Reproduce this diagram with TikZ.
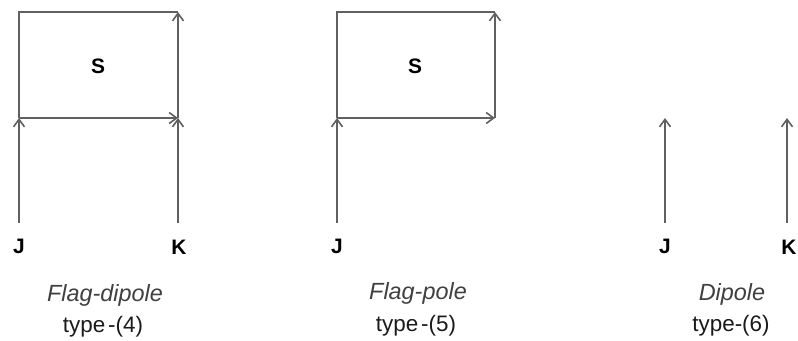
\documentclass[tikz,border=0pt]{standalone}
\usepackage{fontspec}
\setmainfont{Liberation Sans}
\usetikzlibrary{arrows.meta}
\definecolor{linegray}{HTML}{606060}
\definecolor{capgray}{HTML}{404040}
\definecolor{typeblack}{HTML}{1A1A1A}
\begin{document}
\begin{tikzpicture}[x=1bp,y=-1bp,
  ln/.style={draw=linegray,line width=2bp},
  arr/.style={ln,-{Straight Barb[length=7.5bp,width=11bp,line width=1.6bp]}},
  ptlabel/.style={font=\bfseries\fontsize{21}{24}\selectfont,text=black,inner sep=0pt},
  captext/.style={font=\itshape\fontsize{23.5}{27}\selectfont,text=capgray,inner sep=0pt},
  typetext/.style={font=\fontsize{22.5}{26}\selectfont,text=typeblack,inner sep=0pt}]
\useasboundingbox (0,0) rectangle (798,340);
% ---------- type (4) ----------
\coordinate (a1) at (19,223);
\coordinate (b1) at (19,118);
\coordinate (c1) at (19,12);
\coordinate (d1) at (178,12);
\coordinate (e1) at (178,118);
\coordinate (f1) at (178,223);
\draw[arr] (a1) -- (b1);
\draw[arr] (f1) -- (e1);
\draw[arr] (b1) -- (e1);
\draw[ln] (b1) -- (c1) -- (d1);
\draw[arr] (e1) -- (d1);
\node[ptlabel] (S1) at (98,66) {S};
\node[ptlabel] (J1) at (19,246) {J};
\node[ptlabel] (K1) at (179,247) {K};
\node[captext] (L1) at (105,295) {Flag-dipole};
\node[typetext] (T1) at (103,327) {type\kern3bp-(4)};
% ---------- type (5) ----------
\coordinate (a2) at (337,223);
\coordinate (b2) at (337,118);
\coordinate (c2) at (337,12);
\coordinate (d2) at (495,12);
\coordinate (e2) at (495,118);
\draw[arr] (a2) -- (b2);
\draw[arr] (b2) -- (e2);
\draw[ln] (b2) -- (c2) -- (d2);
\draw[arr] (e2) -- (d2);
\node[ptlabel] (S2) at (415,66) {S};
\node[ptlabel] (J2) at (337,246) {J};
\node[captext] (L2) at (418,293) {Flag-pole};
\node[typetext] (T2) at (416,326) {type\kern3bp-(5)};
% ---------- type (6) ----------
\coordinate (a3) at (665,223);
\coordinate (b3) at (665,118);
\coordinate (f3) at (787,223);
\coordinate (e3) at (787,118);
\draw[arr] (a3) -- (b3);
\draw[arr] (f3) -- (e3);
\node[ptlabel] (J3) at (665,246) {J};
\node[ptlabel] (K3) at (789,247) {K};
\node[captext] (L3) at (732,294) {Dipole};
\node[typetext] (T3) at (731,326) {type-(6)};
\end{tikzpicture}
\end{document}
